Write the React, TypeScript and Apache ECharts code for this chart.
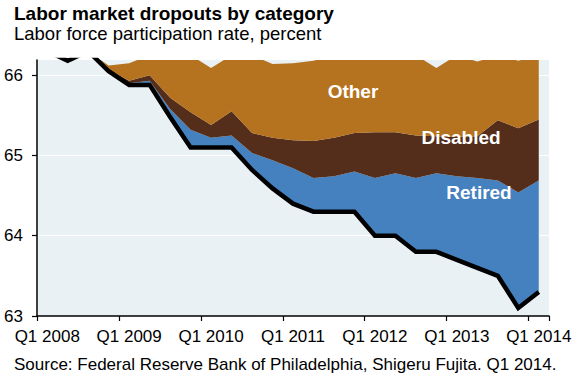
import React, { useEffect, useRef } from "react";
import * as echarts from "echarts";

const quarters = [
  "Q1 2008", "Q2 2008", "Q3 2008", "Q4 2008",
  "Q1 2009", "Q2 2009", "Q3 2009", "Q4 2009",
  "Q1 2010", "Q2 2010", "Q3 2010", "Q4 2010",
  "Q1 2011", "Q2 2011", "Q3 2011", "Q4 2011",
  "Q1 2012", "Q2 2012", "Q3 2012", "Q4 2012",
  "Q1 2013", "Q2 2013", "Q3 2013", "Q4 2013",
  "Q1 2014",
];

// Actual labor force participation rate (black line)
const lfpr = [
  66.3, 66.18, 66.3, 66.05, 65.88, 65.88, 65.48, 65.1, 65.1, 65.1, 64.82, 64.59,
  64.4, 64.3, 64.3, 64.3, 64.0, 64.0, 63.8, 63.8, 63.7, 63.6, 63.5, 63.1, 63.3,
];
// Upper edge of "Retired" band
const retiredTop = [
  66.3, 66.18, 66.3, 66.05, 65.9, 65.93, 65.58, 65.32, 65.22, 65.25, 65.03, 64.94,
  64.84, 64.72, 64.74, 64.8, 64.72, 64.78, 64.72, 64.78, 64.74, 64.72, 64.69, 64.54, 64.69,
];
// Upper edge of "Disabled" band
const disabledTop = [
  66.3, 66.18, 66.3, 66.07, 65.93, 66.0, 65.72, 65.54, 65.38, 65.55, 65.28, 65.22,
  65.19, 65.18, 65.22, 65.28, 65.29, 65.29, 65.25, 65.24, 65.23, 65.24, 65.44, 65.34, 65.45,
];
// Upper edge of "Other" band
const otherTop = [
  66.3, 66.18, 66.3, 66.12, 66.15, 66.25, 66.25, 66.25, 66.09, 66.25, 66.25, 66.14,
  66.15, 66.18, 66.25, 66.25, 66.25, 66.25, 66.25, 66.09, 66.25, 66.17, 66.25, 66.18, 66.25,
];

const yTicks = [63, 64, 65, 66];

const FONT = "'Liberation Sans', Arial, Helvetica, sans-serif";
const C_OTHER = "#B5731F";
const C_DISABLED = "#542E1B";
const C_RETIRED = "#4581BE";
const C_BG = "#EAF1F5";

export default function App() {
  const ref = useRef<HTMLDivElement>(null);

  useEffect(() => {
    if (!ref.current) return;
    const chart = echarts.init(ref.current, null, { renderer: "svg" });
    const diff = (a: number[], b: number[]) =>
      a.map((v, i) => Math.max(0, +(v - b[i]).toFixed(3)));

    const retired = diff(retiredTop, lfpr);
    const disabled = diff(disabledTop, retiredTop);
    const other = diff(otherTop, disabledTop);

    const areaSeries = (name: string, data: number[], color: string) => ({
      name,
      type: "line",
      stack: "s",
      data,
      symbol: "none",
      lineStyle: { width: 0, opacity: 0 },
      areaStyle: { color, opacity: 1 },
      z: 2,
    });

    const label = (text: string, x: number, y: number) => ({
      type: "text",
      x,
      y,
      z: 10,
      style: {
        text,
        fontSize: 19,
        fontWeight: "bold",
        fontFamily: FONT,
        fill: "#fff",
        align: "center",
        verticalAlign: "middle",
      },
    });

    const option: any = {
      animation: false,
      backgroundColor: "#ffffff",
      textStyle: { fontFamily: FONT },
      grid: {
        left: 37,
        right: 26,
        top: 60,
        bottom: 72,
        show: true,
        backgroundColor: C_BG,
        borderWidth: 0,
      },
      xAxis: {
        type: "category",
        data: quarters,
        boundaryGap: true,
        axisLine: { show: true, lineStyle: { color: "#000", width: 1.5 } },
        axisTick: { show: true, interval: 3, length: 5, lineStyle: { color: "#000", width: 1.2 } },
        axisLabel: {
          interval: 3,
          margin: 12,
          color: "#000",
          fontSize: 17,
          fontFamily: FONT,
        },
        splitLine: { show: false },
      },
      yAxis: {
        type: "value",
        min: 63,
        max: 66.19,
        interval: 1,
        axisLine: { show: true, lineStyle: { color: "#000", width: 1.5 } },
        axisTick: {
          show: true,
          length: 5,
          customValues: yTicks,
          lineStyle: { color: "#000", width: 1.2 },
        },
        axisLabel: {
          customValues: yTicks,
          margin: 14,
          color: "#000",
          fontSize: 17,
          fontFamily: FONT,
        },
        splitLine: { show: true, lineStyle: { color: "#ffffff", width: 1 } },
      },
      graphic: [
        {
          type: "text",
          left: 14,
          top: 4,
          style: {
            text: "Labor market dropouts by category",
            fontSize: 19,
            fontWeight: "bold",
            fontFamily: FONT,
            fill: "#000",
          },
        },
        {
          type: "text",
          left: 14,
          top: 24,
          style: {
            text: "Labor force participation rate, percent",
            fontSize: 18.5,
            fontFamily: FONT,
            fill: "#000",
          },
        },
        {
          type: "text",
          left: 14,
          top: 356,
          style: {
            text: "Source: Federal Reserve Bank of Philadelphia, Shigeru Fujita. Q1 2014.",
            fontSize: 17,
            fontFamily: FONT,
            fill: "#000",
          },
        },
        label("Other", 353, 91),
        label("Disabled", 461, 137),
        label("Retired", 479, 192),
      ],
      series: [
        {
          name: "base",
          type: "line",
          stack: "s",
          data: lfpr,
          symbol: "none",
          lineStyle: { width: 0, opacity: 0 },
          silent: true,
          z: 1,
        },
        areaSeries("Retired", retired, C_RETIRED),
        areaSeries("Disabled", disabled, C_DISABLED),
        areaSeries("Other", other, C_OTHER),
        {
          name: "Participation rate",
          type: "line",
          data: lfpr,
          symbol: "none",
          lineStyle: { color: "#000", width: 4.5, join: "miter", cap: "butt" },
          z: 5,
        },
      ],
    };

    chart.setOption(option);
    return () => chart.dispose();
  }, []);

  return (
    <div
      ref={ref}
      style={{ position: "absolute", left: 0, top: 0, width: 575, height: 388, background: "#fff" }}
    />
  );
}
